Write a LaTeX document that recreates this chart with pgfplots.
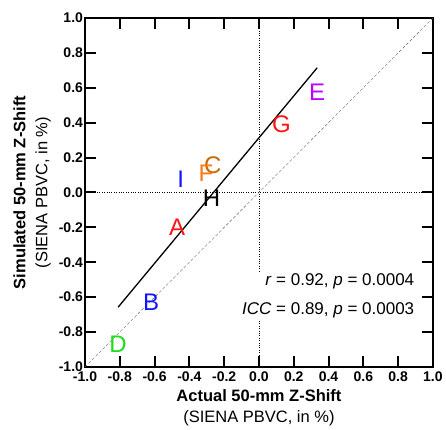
\documentclass[border=0pt]{standalone}
\usepackage{pgfplots}
\pgfplotsset{compat=1.18}
\usepackage{fontspec}
\setmainfont{Liberation Sans}
\definecolor{cA}{RGB}{255,20,20}
\definecolor{cB}{RGB}{20,20,255}
\definecolor{cC}{RGB}{204,102,0}
\definecolor{cD}{RGB}{30,220,30}
\definecolor{cE}{RGB}{190,0,255}
\definecolor{cF}{RGB}{255,120,20}
\pgfplotsset{letters/.style={only marks, mark=none, point meta=explicit symbolic, nodes near coords,
  nodes near coords style={anchor=center, inner sep=0pt, font=\fontsize{24}{24}\selectfont, text=#1}}}
\begin{document}
\begin{tikzpicture}
\path (-85pt,-63pt) rectangle (361pt,367pt);
\begin{axis}[
  scale only axis, width=348pt, height=349pt,
  xmin=-1, xmax=1, ymin=-1, ymax=1,
  xtick={-1,-0.8,-0.6,-0.4,-0.2,0,0.2,0.4,0.6,0.8,1},
  ytick={-1,-0.8,-0.6,-0.4,-0.2,0,0.2,0.4,0.6,0.8,1},
  xticklabels={-1.0,-0.8,-0.6,-0.4,-0.2,0.0,0.2,0.4,0.6,0.8,1.0},
  yticklabels={-1.0,-0.8,-0.6,-0.4,-0.2,0.0,0.2,0.4,0.6,0.8,1.0},
  ticklabel style={font=\fontsize{14}{16}\selectfont\bfseries},
  yticklabel style={xshift=1.5pt},
  xticklabel style={yshift=-1pt},
  tick align=inside,
  major tick length=11pt,
  tick style={black, line width=2pt},
  axis line style={black, line width=2.4pt},
  xlabel={\textbf{Actual 50-mm Z-Shift}\\(SIENA PBVC, in \%)},
  ylabel={\textbf{Simulated 50-mm Z-Shift}\\(SIENA PBVC, in \%)},
  xlabel style={at={(axis description cs:0.5,-0.116)}, anchor=center, align=center, font=\fontsize{16.5}{21}\selectfont},
  ylabel style={at={(axis description cs:-0.152,0.5)}, anchor=center, align=center, rotate=0, font=\fontsize{16.5}{22}\selectfont},
]
\addplot[black, dotted, thin] coordinates {(0,-1) (0,1)};
\addplot[black, dotted, thin] coordinates {(-1,0) (1,0)};
\addplot[gray!80!black, densely dashed, thin] coordinates {(-1,-1) (1,1)};
\node[anchor=east, align=right, fill=white, inner sep=2pt, font=\fontsize{17}{29}\selectfont] at (axis cs:0.905,-0.595)
  {\textit{r} = 0.92, \textit{p} = 0.0004\\\textit{ICC} = 0.89, \textit{p} = 0.0003};
\addplot[black, line width=1.3pt] coordinates {(-0.81,-0.658) (0.335,0.715)};
\addplot[letters=cA] table[meta=l] {
x y l
-0.47 -0.20 A
0.13 0.39 G
};
\addplot[letters=cB] table[meta=l] {
x y l
-0.62 -0.63 B
-0.45 0.075 I
};
\addplot[letters=cC] table[meta=l] {
x y l
-0.266 0.155 C
};
\addplot[letters=cD] table[meta=l] {
x y l
-0.81 -0.87 D
};
\addplot[letters=cE] table[meta=l] {
x y l
0.335 0.575 E
};
\addplot[letters=cF] table[meta=l] {
x y l
-0.305 0.112 F
};
\addplot[letters=black] table[meta=l] {
x y l
-0.272 -0.031 H
};
\end{axis}
\end{tikzpicture}
\end{document}
